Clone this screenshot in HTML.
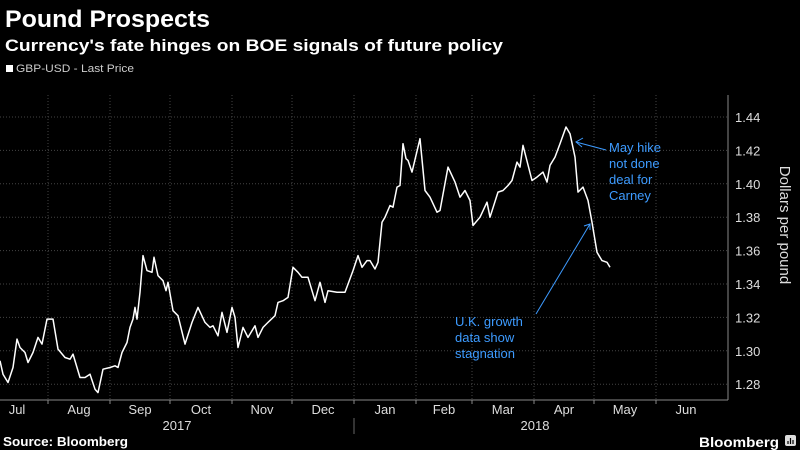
<!DOCTYPE html>
<html><head><meta charset="utf-8"><style>
body{margin:0;background:#000;}
#c{position:relative;width:800px;height:450px;background:#000;overflow:hidden;font-family:"Liberation Sans",sans-serif;color:#fff}
</style></head><body>
<div id="c">
<svg id="s" width="800" height="450">
<text x="5" y="27" font-size="24" font-weight="bold" fill="#fff" textLength="205" lengthAdjust="spacingAndGlyphs">Pound Prospects</text>
<text x="5" y="51" font-size="17" font-weight="bold" fill="#fff" textLength="498" lengthAdjust="spacingAndGlyphs">Currency's fate hinges on BOE signals of future policy</text>
<rect x="6" y="65" width="7" height="7" fill="#fff"/>
<text x="16" y="72" font-size="11" fill="#ccc" textLength="118" lengthAdjust="spacingAndGlyphs">GBP-USD - Last Price</text>
<g id="grid"></g><g id="axes"></g>
<path id="line" fill="none" stroke="#fff" stroke-width="1.5" stroke-linejoin="round"/>
<text x="780" y="225" font-size="15" fill="#ddd" text-anchor="middle" transform="rotate(90 780 225)">Dollars per pound</text>
<g fill="#3d9bff" font-size="13">
<text x="609" y="152">May hike</text><text x="609" y="168">not done</text><text x="609" y="184">deal for</text><text x="609" y="200">Carney</text>
<line x1="606" y1="150" x2="576" y2="142" stroke="#3d9bff" stroke-width="1"/>
<polyline points="583,138 576,142 582,147" fill="none" stroke="#3d9bff"/>
</g>
<g fill="#3d9bff" font-size="13">
<text x="455" y="326">U.K. growth</text><text x="455" y="342">data show</text><text x="455" y="358">stagnation</text>
<line x1="536" y1="314" x2="590" y2="224" stroke="#3d9bff" stroke-width="1"/>
<polyline points="584,226 590,224 590,230" fill="none" stroke="#3d9bff"/>
</g>
<text x="3" y="446" font-size="12.5" font-weight="bold" fill="#fff" textLength="125" lengthAdjust="spacingAndGlyphs">Source: Bloomberg</text>
<text x="699" y="447" font-size="14" font-weight="bold" fill="#fff" textLength="80" lengthAdjust="spacingAndGlyphs">Bloomberg</text>
<g>
<rect x="785" y="435" width="11" height="11" rx="2" fill="#ddd"/>
<path d="M788 444V441M790.5 444V438M793 444V440" stroke="#000" stroke-width="1.2"/>
</g>
</svg>
</div>
<script>
const days=[7,8.5,11,13.5,15.5,17,19.5,21,23.5,26,28,30.5,33.5,36,39.5,42,43.5,47,49.5,52,54.5,56,58.5,62,64.5,66,68,70.5,72,73.5,74.5,75.5,77,78.5,80.5,83,84,86,88.5,90,91,93.5,96,99.5,103,106,109.5,112,113.5,116,118,120.5,123,124.5,126,128.5,131,134.5,136,138.5,141,144.5,146,148.5,151,153.5,156,158,161,164.5,167,169.5,171,175.5,177,179.5,183.5,186,188,190.5,192,194.5,196,198,199.5,202,203.5,205.5,207,208.5,210,211,213,217,219.5,222,225.5,227,231,234.5,237,239.5,242,243.5,247,250.5,252,256,258.5,261,263,265.5,267,268.5,273,275.5,278.5,280.5,282,284.5,287,290,292,294.5,296,298.5,301,303,305.5,308,310.5,312];
const prices=[1.294,1.286,1.281,1.290,1.307,1.302,1.299,1.293,1.299,1.308,1.304,1.319,1.319,1.301,1.296,1.295,1.298,1.284,1.284,1.286,1.277,1.275,1.289,1.290,1.291,1.290,1.299,1.305,1.314,1.319,1.326,1.319,1.335,1.357,1.348,1.347,1.356,1.345,1.342,1.336,1.341,1.324,1.321,1.304,1.317,1.326,1.317,1.314,1.315,1.309,1.323,1.311,1.326,1.320,1.302,1.314,1.308,1.315,1.308,1.314,1.317,1.321,1.329,1.330,1.332,1.350,1.347,1.344,1.344,1.330,1.341,1.329,1.336,1.335,1.335,1.335,1.348,1.357,1.350,1.354,1.354,1.349,1.353,1.377,1.380,1.387,1.386,1.398,1.399,1.424,1.415,1.414,1.407,1.427,1.396,1.392,1.383,1.384,1.410,1.401,1.392,1.396,1.390,1.375,1.380,1.389,1.380,1.395,1.396,1.399,1.402,1.413,1.410,1.423,1.402,1.404,1.407,1.401,1.411,1.416,1.424,1.434,1.430,1.416,1.395,1.398,1.390,1.377,1.359,1.354,1.353,1.350];
const yTicks=[1.28,1.30,1.32,1.34,1.36,1.38,1.40,1.42,1.44];
const months=["Jul","Aug","Sep","Oct","Nov","Dec","Jan","Feb","Mar","Apr","May","Jun"];
const monthStarts=[0,31,62,92,123,153,184,215,243,274,304,335,365];
const years=["2017","2018"];
const yearStarts=[0,184,365];
const NS="http://www.w3.org/2000/svg";
const xS=d=>-14+d*2.0;
const yS=v=>117+(1.44-v)*1670;
const grid=document.getElementById('grid'),axes=document.getElementById('axes');
function mk(tag,attrs,parent){const e=document.createElementNS(NS,tag);for(const k in attrs)e.setAttribute(k,attrs[k]);parent.appendChild(e);return e;}
yTicks.forEach(t=>{
 const g=mk('line',{x1:0,x2:728,y1:yS(t),y2:yS(t),stroke:'#444','stroke-dasharray':'1,2'},grid);
 
 
 const l=mk('text',{x:735,y:yS(t)+5,'font-size':13,fill:'#ddd'},axes);
 l.textContent=t.toFixed(2);
 
 
});
months.forEach((m,i)=>{
 const x0=xS(monthStarts[i]),x1=xS(monthStarts[i+1]);
 if(i>0){const g=mk('line',{x1:x0,x2:x0,y1:95,y2:400,stroke:'#444','stroke-dasharray':'1,2'},grid);
 
 
 const tk=mk('line',{x1:x0,x2:x0,y1:400,y2:404,stroke:'#888'},axes);
 
 }
 const t=mk('text',{x:Math.max(15,(x0+x1)/2),y:414,'font-size':13,fill:'#ddd','text-anchor':'middle'},axes);
 t.textContent=m;
 
 
});
years.forEach((y,i)=>{
 const x0=Math.max(0,xS(yearStarts[i])),x1=Math.min(740,xS(yearStarts[i+1]));
 const t=mk('text',{x:(x0+x1)/2,y:430,'font-size':13,fill:'#ddd','text-anchor':'middle'},axes);
 t.textContent=y;
 
 
 if(i>0){const s=mk('line',{x1:x0,x2:x0,y1:418,y2:434,stroke:'#666'},axes);
 
 }
});
const ax=mk('line',{x1:728,x2:728,y1:95,y2:400,stroke:'#888'},axes);


const bx=mk('line',{x1:0,x2:728,y1:400,y2:400,stroke:'#888'},axes);


document.getElementById('line').setAttribute('d',days.map((d,i)=>(i?'L':'M')+xS(d).toFixed(1)+','+yS(prices[i]).toFixed(1)).join(''));
</script>
</body></html>
